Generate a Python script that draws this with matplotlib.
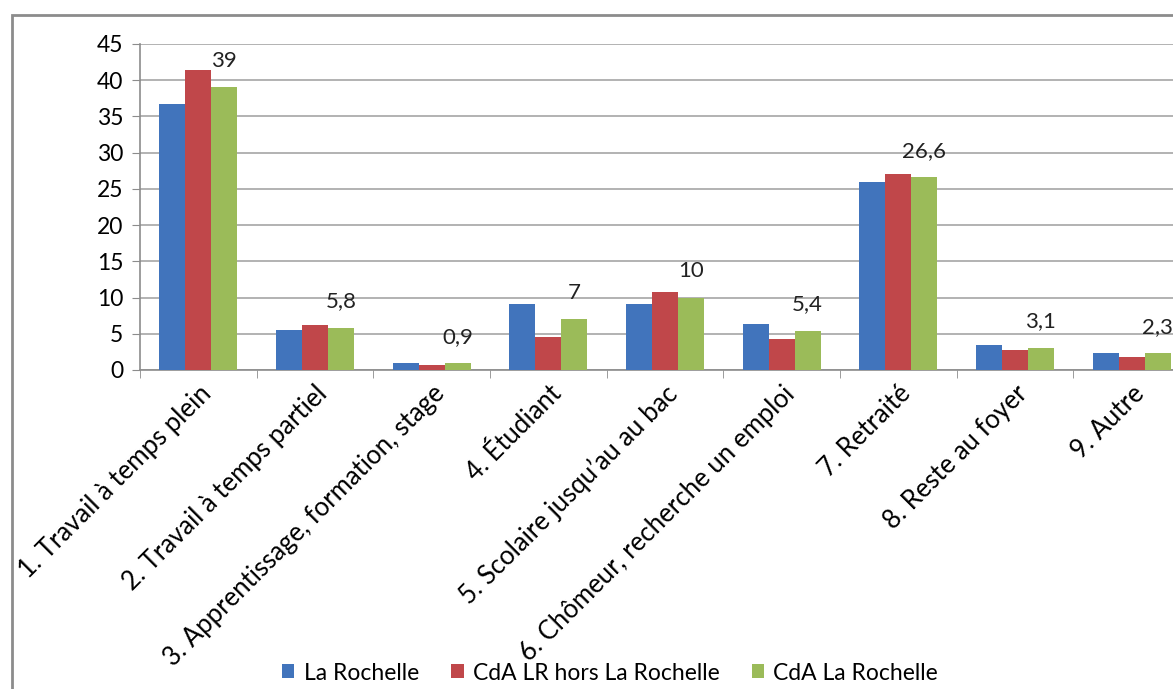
import matplotlib.pyplot as plt
from matplotlib.patches import Rectangle
import numpy as np

plt.rcParams['font.family'] = ['Lato', 'DejaVu Sans']

categories = ['1. Travail à temps plein', '2. Travail à temps partiel',
              '3. Apprentissage, formation, stage', '4. Étudiant',
              '5. Scolaire jusqu\u2019au au bac', '6. Chômeur, recherche un emploi',
              '7. Retraité', '8. Reste au foyer', '9. Autre']
series_names = ['La Rochelle', 'CdA LR hors La Rochelle', 'CdA La Rochelle']
la_rochelle = [36.7, 5.5, 1.0, 9.1, 9.1, 6.4, 26.0, 3.4, 2.4]
cda_hors_lr = [41.4, 6.2, 0.7, 4.6, 10.8, 4.3, 27.1, 2.7, 1.8]
cda_lr = [39, 5.8, 0.9, 7, 10, 5.4, 26.6, 3.1, 2.3]
cda_lr_labels = ['39', '5,8', '0,9', '7', '10', '5,4', '26,6', '3,1', '2,3']
colors = ['#4174BC', '#C0474A', '#9BBB59']

fig = plt.figure(figsize=(11.73, 6.89), dpi=100)
# cadre du graphique (coupé à droite et en bas)
fig.patches.append(Rectangle((12 / 1173, -0.1), 2, 1.1 - 15 / 689, transform=fig.transFigure,
                             fill=False, edgecolor='#8c8c8c', linewidth=2))
ax = fig.add_axes([140 / 1173, 1 - 370 / 689, 1050 / 1173, 326 / 689])

x = np.arange(len(categories))
w = 1 / 4.5
for k, vals in enumerate([la_rochelle, cda_hors_lr, cda_lr]):
    ax.bar(x + (k - 1) * w, vals, w, color=colors[k], label=series_names[k], zorder=3)
for xi, v, lab in zip(x, cda_lr, cda_lr_labels):
    ax.annotate(lab, xy=(xi + w, v), xytext=(0, 12), textcoords='offset points',
                ha='center', va='bottom', fontsize=16, color='#222222')

ax.set_xlim(-0.5, 8.5)
ax.set_ylim(0, 45)
ax.set_yticks(range(0, 46, 5))
ax.yaxis.grid(True, color='#a6a6a6', linewidth=1.2, zorder=0)
ax.set_axisbelow(True)
ax.set_xticks(x)
ax.set_xticklabels(categories, rotation=45, ha='right', va='top', rotation_mode='anchor', fontsize=18.5)
ax.set_xticks(np.arange(-0.5, 9, 1), minor=True)
ax.tick_params(axis='x', which='major', length=0, pad=8)
ax.tick_params(axis='x', which='minor', length=6, color='#8c8c8c', direction='out')
ax.tick_params(axis='y', length=6, color='#8c8c8c', labelsize=16.5, pad=6)
for s in ['top', 'right']:
    ax.spines[s].set_visible(False)
for s in ['left', 'bottom']:
    ax.spines[s].set_color('#8c8c8c')
    ax.spines[s].set_linewidth(1.2)

fig.legend(loc='center', bbox_to_anchor=(610 / 1173, 16 / 689), ncol=3, frameon=False,
           fontsize=16.5, handlelength=0.55, handleheight=0.55, handletextpad=0.4, columnspacing=1.4)

fig.savefig('out.png', dpi=100)
